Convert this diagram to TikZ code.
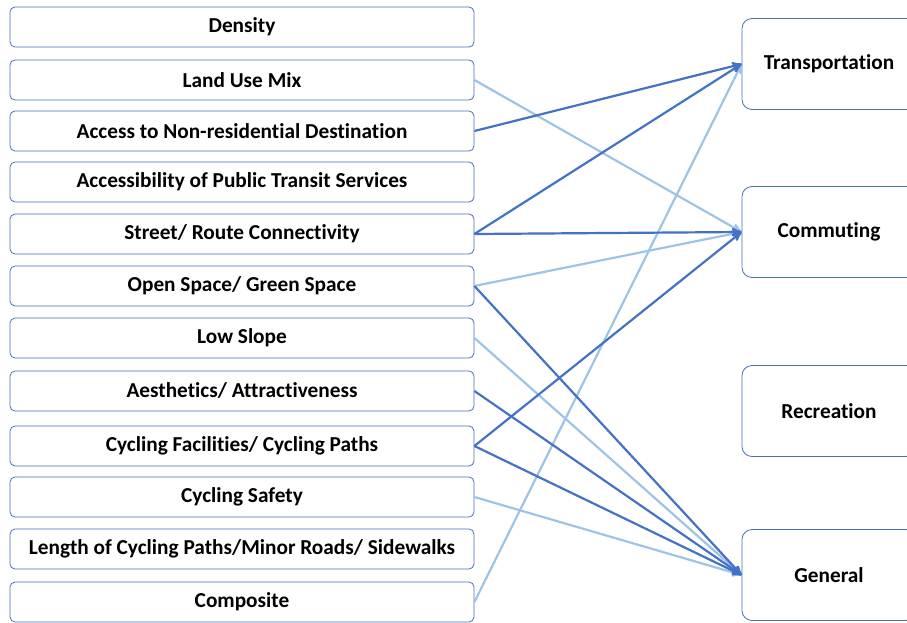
\documentclass[tikz,border=0pt]{standalone}
\usepackage{fontspec}
\setmainfont{Carlito}[Ligatures=NoCommon]
\usetikzlibrary{positioning,arrows}
\definecolor{darklink}{HTML}{4472C4}
\definecolor{lightlink}{HTML}{9DC3E6}
\definecolor{boxline}{HTML}{4A6FB5}
\tikzset{
  factor/.style  = {shape=rectangle, rounded corners=5pt,
                    draw=boxline, line width=0.8pt, fill=white,
                    minimum width=464pt, minimum height=40pt,
                    font=\bfseries\fontsize{21.3}{24}\selectfont},
  purpose/.style = {factor, rounded corners=10pt,
                    minimum width=174pt, minimum height=91pt},
  strong/.style  = {->, draw=darklink, line width=2.2pt},
  weak/.style    = {->, draw=lightlink, line width=2.2pt}
}

\begin{document}
\begin{tikzpicture}[x=1pt,y=-1pt,>=stealth']
  \useasboundingbox (0,0) rectangle (907,623);
  \clip (0,0) rectangle (907,623);
  % built environment factors
  \node [factor] (dens)  at (242,27)  {Density};
  \node [factor] (lum)   at (242,80)  {Land Use Mix};
  \node [factor] (acc)   at (242,131) {Access to Non-residential Destination};
  \node [factor] (pt)    at (242,182) {Accessibility of Public Transit Services};
  \node [factor] (conn)  at (242,234) {Street/ Route Connectivity};
  \node [factor] (green) at (242,286) {Open Space/ Green Space};
  \node [factor] (slope) at (242,338) {Low Slope};
  \node [factor] (aes)   at (242,391) {Aesthetics/ Attractiveness};
  \node [factor] (fac)   at (242,446) {Cycling Facilities/ Cycling Paths};
  \node [factor] (safe)  at (242,497) {Cycling Safety};
  \node [factor] (len)   at (242,549) {Length of Cycling Paths/Minor Roads/ Sidewalks};
  \node [factor] (comp)  at (242,602) {Composite};
  % cycling purposes
  \node [purpose] (trans) at (829,64)  {Transportation};
  \node [purpose] (comm)  at (829,232) {Commuting};
  \node [purpose] (rec)   at (829,411) {Recreation};
  \node [purpose] (gen)   at (829,575) {General};
  % links
  \draw [weak] (lum.east)   -- (comm.west);
  \draw [weak] (green.east) -- (comm.west);
  \draw [weak] (slope.east) -- (gen.west);
  \draw [weak] (safe.east)  -- (gen.west);
  \draw [weak] (comp.east)  -- (trans.west);
  \draw [strong] (acc.east)   -- (trans.west);
  \draw [strong] (conn.east)  -- (trans.west);
  \draw [strong] (conn.east)  -- (comm.west);
  \draw [strong] (green.east) -- (gen.west);
  \draw [strong] (aes.east)   -- (gen.west);
  \draw [strong] (fac.east)   -- (comm.west);
  \draw [strong] (fac.east)   -- (gen.west);
\end{tikzpicture}
\end{document}
